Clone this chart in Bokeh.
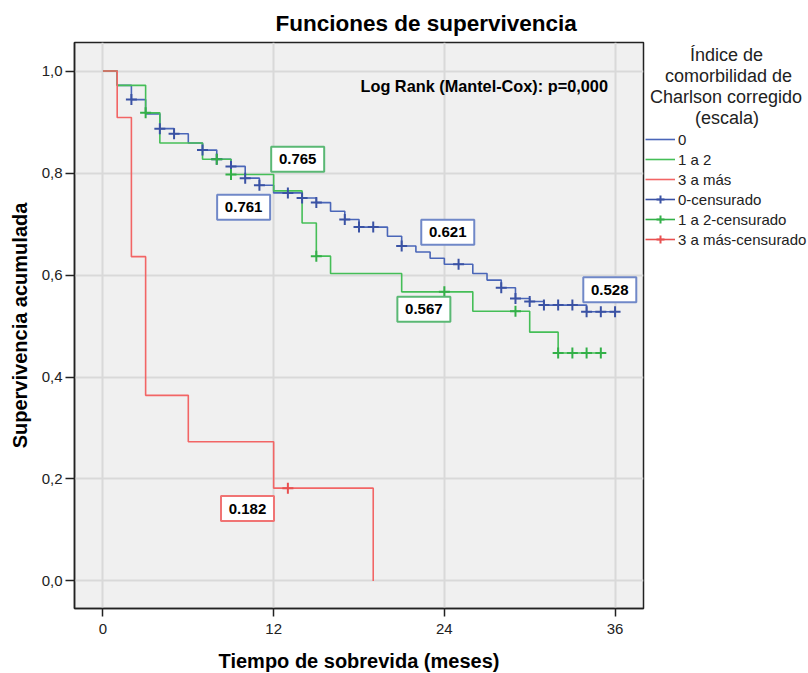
from bokeh.plotting import figure
from bokeh.models import (ColumnDataSource, FixedTicker, CustomJSTickFormatter,
                          Legend, LegendItem, Label)
from bokeh.core.properties import value
from bokeh.embed import file_html
from bokeh.resources import INLINE

# ---------------- data ----------------
groups = ["0", "1 a 2", "3 a más"]

time_0 = [0, 1, 2, 3, 4, 5, 6, 7, 8, 9, 10, 11, 12, 14, 15, 16, 17, 18, 20, 21, 22, 23, 24,
          26, 27, 28, 29, 30, 31, 34, 36]
surv_0 = [1.0, 0.972, 0.944, 0.916, 0.887, 0.877, 0.859, 0.845, 0.827, 0.813, 0.790, 0.776, 0.761,
          0.751, 0.742, 0.725, 0.709, 0.694, 0.676, 0.657, 0.645, 0.633, 0.621,
          0.603, 0.590, 0.575, 0.554, 0.548, 0.541, 0.528, 0.528]
cens_0 = [2, 4, 5, 7, 8, 9, 10, 11, 13, 14, 15, 17, 18, 19, 21, 25, 28, 29, 30, 31, 32, 33, 34, 35, 36]

time_12 = [0, 1, 3, 4, 7, 9, 12, 14, 15, 16, 21, 26, 30, 32, 35]
surv_12 = [1.0, 0.972, 0.918, 0.859, 0.827, 0.797, 0.765, 0.702, 0.637, 0.603, 0.567, 0.529,
           0.488, 0.447, 0.447]
cens_12 = [3, 8, 9, 15, 24, 29, 32, 33, 34, 35]

time_3 = [0, 1, 2, 3, 6, 12, 19]
surv_3 = [1.0, 0.909, 0.636, 0.364, 0.273, 0.182, 0.0]
cens_3 = [13]

x_ticks = [0, 12, 24, 36]
y_ticks = [0.0, 0.2, 0.4, 0.6, 0.8, 1.0]

label_values = [0.761, 0.765, 0.182, 0.621, 0.567, 0.528]
label_groups = ["0", "1 a 2", "3 a más", "0", "1 a 2", "0"]
label_x = [9.89, 13.69, 10.16, 24.24, 22.56, 35.63]
label_y = [0.733, 0.827, 0.142, 0.684, 0.533, 0.571]

legend_title_lines = ["Índice de", "comorbilidad de", "Charlson corregido", "(escala)"]
logrank_text = "Log Rank (Mantel-Cox): p=0,000"

# ---------------- styles ----------------
FONT = "Liberation Sans"
line_colors = {"0": "#4A66B8", "1 a 2": "#45BE57", "3 a más": "#F26565"}
mark_colors = {"0": "#3A52A4", "1 a 2": "#33B048", "3 a más": "#E85050"}
box_colors = {"0": "#7088C8", "1 a 2": "#5AB874", "3 a más": "#F07474"}
title_indent = [9, 4, 1, 10]   # non-breaking spaces used to centre the legend title lines


def surv_at(times, surv, t):
    v = surv[0]
    for ti, si in zip(times, surv):
        if ti <= t:
            v = si
    return v


p = figure(frame_width=569, frame_height=566, x_range=(-2, 38), y_range=(-0.054, 1.056),
           output_backend="svg", toolbar_location=None,
           min_border_left=74, min_border_right=164, min_border_top=42, min_border_bottom=64)
p.background_fill_color = "#F0F0F0"
p.border_fill_color = "white"
p.outline_line_color = "#222222"
p.outline_line_width = 1.5

# title
p.title.text = "Funciones de supervivencia"
p.title.text_font = FONT
p.title.text_font_size = "22.5px"
p.title.text_font_style = "bold"
p.title.text_color = "black"
p.title.align = "left"
p.title.offset = 201
p.title.standoff = 13

# axes
p.xaxis.ticker = FixedTicker(ticks=x_ticks)
p.yaxis.ticker = FixedTicker(ticks=y_ticks)
p.yaxis.formatter = CustomJSTickFormatter(code="return tick.toFixed(1).replace('.', ',');")
for ax in (p.xaxis[0], p.yaxis[0]):
    ax.axis_line_color = "#222222"
    ax.axis_line_width = 1.5
    ax.major_tick_line_color = "#222222"
    ax.major_tick_line_width = 1.5
    ax.major_tick_in = 0
    ax.minor_tick_line_color = None
    ax.major_label_text_font = FONT
    ax.major_label_text_font_size = "15px"
    ax.major_label_text_color = "#222222"
    ax.axis_label_text_font = FONT
    ax.axis_label_text_font_size = "20px"
    ax.axis_label_text_font_style = "bold"
    ax.axis_label_text_color = "black"
p.xaxis.major_tick_out = 8
p.xaxis.major_label_standoff = 7
p.xaxis.axis_label = "Tiempo de sobrevida (meses)"
p.xaxis.axis_label_standoff = 13
p.yaxis.major_tick_out = 9
p.yaxis.major_label_standoff = 3
p.yaxis.axis_label = "Supervivencia acumulada"
p.yaxis.axis_label_standoff = 8

p.xgrid.ticker = FixedTicker(ticks=x_ticks)
p.ygrid.ticker = FixedTicker(ticks=y_ticks)
p.grid.grid_line_color = "#D9D9D9"
p.grid.grid_line_width = 2

# curves
series = {
    "0": (time_0, surv_0, cens_0),
    "1 a 2": (time_12, surv_12, cens_12),
    "3 a más": (time_3, surv_3, cens_3),
}
step_r = {}
cens_r = {}
dummy_r = {}
for g in groups:
    t, s, c = series[g]
    step_r[g] = p.step(x=t, y=s, mode="after", line_color=line_colors[g], line_width=1.6)
for g in groups:
    t, s, c = series[g]
    cy = [surv_at(t, s, ci) for ci in c]
    cens_r[g] = p.scatter(x=c, y=cy, marker="cross", size=11, line_width=2,
                          line_color=mark_colors[g])
    # invisible line, only used so the legend shows a line through the cross
    dummy_r[g] = p.line(x=[-100, -99], y=[-100, -100], line_color=mark_colors[g], line_width=1.6)

# value boxes
lab_src = ColumnDataSource(dict(
    x=label_x, y=label_y,
    text=["%.3f" % v for v in label_values],
    color=[box_colors[g] for g in label_groups],
))
p.rect(x="x", y="y", width=53, height=25, width_units="screen", height_units="screen",
       source=lab_src, fill_color="white", line_color="color", line_width=2)
p.text(x="x", y="y", text="text", source=lab_src, text_align="center", text_baseline="middle",
       text_font=value(FONT), text_font_size="15px", text_font_style="bold", text_color="black")

# log rank
p.add_layout(Label(x=35.5, y=0.970, text=logrank_text, text_align="right", text_baseline="middle",
                   text_font=FONT, text_font_size="16.3px", text_font_style="bold",
                   text_color="black"))

legend_title = "\n".join("\u00a0" * n + line for n, line in zip(title_indent, legend_title_lines))

items = [LegendItem(label=g, renderers=[step_r[g]]) for g in groups]
items += [LegendItem(label=g + "-censurado", renderers=[dummy_r[g], cens_r[g]]) for g in groups]
legend = Legend(items=items, location=(2, 359), padding=0, margin=0, spacing=0,
                glyph_width=30, glyph_height=20, label_height=20, label_standoff=3,
                border_line_color=None, background_fill_alpha=0,
                label_text_font=FONT, label_text_font_size="15px", label_text_color="#222222",
                title=legend_title, title_text_font=FONT,
                title_text_font_size="18px", title_text_font_style="normal",
                title_text_color="#222222", title_text_align="left",
                title_text_line_height=1.1, title_standoff=0)
p.add_layout(legend, "right")

open("out.html", "w").write(file_html(p, INLINE))
